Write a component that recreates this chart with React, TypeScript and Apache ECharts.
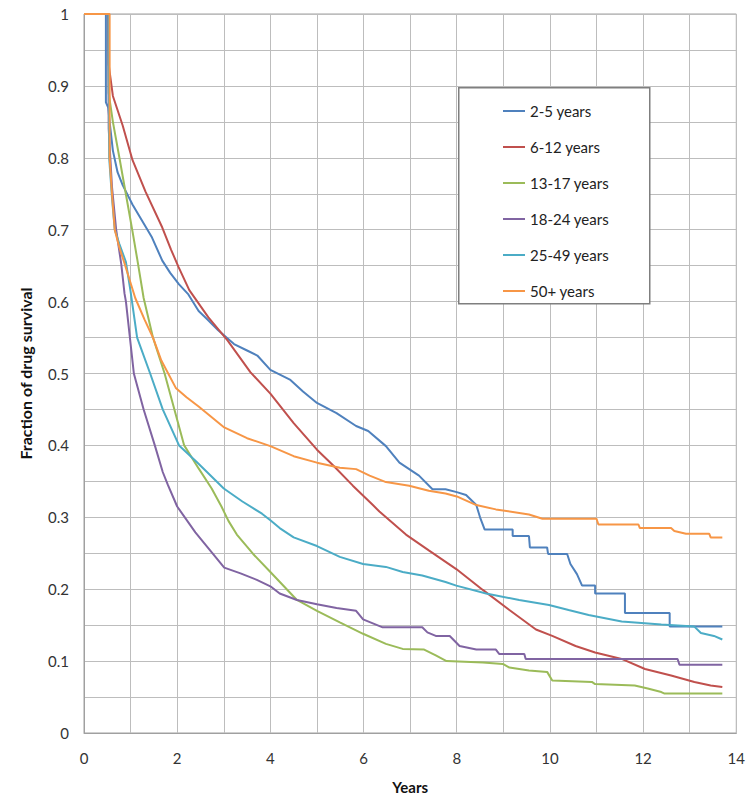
import React, { useEffect, useRef } from "react";
import * as echarts from "echarts";

const seriesNames = ["2-5 years", "6-12 years", "13-17 years", "18-24 years", "25-49 years", "50+ years"];
const seriesColors = ["#4F81BD", "#C0504D", "#9BBB59", "#8064A2", "#4BACC6", "#F79646"];

const age2to5: [number, number][] = [
  [0, 1], [0.47, 1], [0.47, 0.877], [0.52, 0.87], [0.55, 0.85], [0.62, 0.81], [0.72, 0.78], [0.83, 0.762],
  [1.04, 0.735], [1.25, 0.712], [1.46, 0.689], [1.68, 0.657], [1.85, 0.64], [2.04, 0.624], [2.24, 0.61],
  [2.46, 0.587], [2.65, 0.575], [2.88, 0.56], [3.22, 0.541], [3.5, 0.532], [3.72, 0.525], [4.0, 0.505],
  [4.43, 0.491], [4.7, 0.475], [5.0, 0.459], [5.42, 0.445], [5.84, 0.427], [6.1, 0.42], [6.48, 0.399],
  [6.77, 0.376], [7.19, 0.358], [7.48, 0.339], [7.76, 0.339], [8.0, 0.335], [8.2, 0.331], [8.42, 0.317],
  [8.5, 0.3], [8.6, 0.283], [9.2, 0.283], [9.2, 0.274], [9.55, 0.274], [9.57, 0.258], [9.94, 0.258],
  [9.96, 0.249], [10.37, 0.249], [10.44, 0.235], [10.58, 0.221], [10.69, 0.205], [10.97, 0.205],
  [10.97, 0.194], [11.61, 0.194], [11.61, 0.167], [12.57, 0.167], [12.57, 0.148], [13.7, 0.148],
];

const age6to12: [number, number][] = [
  [0, 1], [0.52, 1], [0.53, 0.93], [0.55, 0.92], [0.62, 0.886], [0.83, 0.845], [1.04, 0.797],
  [1.32, 0.753], [1.68, 0.703], [1.87, 0.672], [2.03, 0.648], [2.26, 0.616], [2.67, 0.578], [3.08, 0.546],
  [3.57, 0.502], [4.0, 0.472], [4.5, 0.431], [5.0, 0.394], [5.35, 0.372], [5.77, 0.344], [6.2, 0.317],
  [6.34, 0.308], [6.91, 0.276], [7.4, 0.254], [7.99, 0.228], [8.56, 0.199], [9.13, 0.171], [9.7, 0.144],
  [10.05, 0.135], [10.55, 0.121], [10.97, 0.112], [11.54, 0.103], [12.04, 0.089], [12.6, 0.08],
  [13.1, 0.071], [13.45, 0.066], [13.7, 0.064],
];

const age13to17: [number, number][] = [
  [0, 1], [0.52, 1], [0.53, 0.89], [0.62, 0.85], [0.76, 0.8], [0.9, 0.749], [1.04, 0.698], [1.14, 0.66],
  [1.28, 0.605], [1.48, 0.55], [1.73, 0.5], [1.94, 0.45], [2.15, 0.4], [2.46, 0.368], [2.74, 0.34],
  [2.95, 0.315], [3.1, 0.295], [3.28, 0.276], [3.63, 0.249], [4.0, 0.224], [4.57, 0.185], [5.0, 0.17],
  [5.49, 0.154], [5.99, 0.138], [6.48, 0.124], [6.84, 0.117], [7.3, 0.116], [7.55, 0.108], [7.78, 0.1],
  [8.56, 0.098], [8.99, 0.096], [9.13, 0.091], [9.55, 0.087], [9.94, 0.085], [10.05, 0.073],
  [10.9, 0.071], [10.97, 0.068], [11.82, 0.066], [12.1, 0.062], [12.39, 0.057], [12.45, 0.055],
  [13.7, 0.055],
];

const age18to24: [number, number][] = [
  [0, 1], [0.52, 1], [0.53, 0.84], [0.6, 0.76], [0.69, 0.7], [0.8, 0.652], [0.87, 0.611], [0.9, 0.6],
  [1.07, 0.5], [1.28, 0.45], [1.52, 0.4], [1.69, 0.363], [1.8, 0.345], [2.0, 0.315], [2.39, 0.279],
  [3.01, 0.23], [3.36, 0.222], [3.71, 0.213], [4.0, 0.204], [4.2, 0.194], [4.57, 0.185], [5.0, 0.179],
  [5.42, 0.174], [5.84, 0.17], [5.99, 0.158], [6.41, 0.147], [7.26, 0.147], [7.37, 0.14], [7.55, 0.135],
  [7.85, 0.135], [8.06, 0.121], [8.42, 0.116], [8.84, 0.116], [8.91, 0.11], [9.45, 0.11], [9.48, 0.103],
  [12.74, 0.103], [12.78, 0.095], [13.7, 0.095],
];

const age25to49: [number, number][] = [
  [0, 1], [0.53, 1], [0.54, 0.8], [0.6, 0.745], [0.66, 0.7], [0.76, 0.68], [0.9, 0.655], [1.0, 0.614],
  [1.14, 0.55], [1.42, 0.5], [1.69, 0.45], [2.04, 0.4], [2.42, 0.377], [3.0, 0.34], [3.4, 0.322],
  [3.82, 0.305], [4.0, 0.296], [4.2, 0.285], [4.5, 0.272], [5.0, 0.26], [5.49, 0.245], [5.99, 0.235],
  [6.48, 0.231], [6.84, 0.224], [7.26, 0.219], [7.76, 0.21], [7.99, 0.205], [8.63, 0.194], [9.34, 0.185],
  [9.98, 0.178], [10.4, 0.171], [10.83, 0.164], [11.54, 0.155], [12.39, 0.151], [13.1, 0.148],
  [13.24, 0.139], [13.52, 0.135], [13.7, 0.13],
];

const age50plus: [number, number][] = [
  [0, 1], [0.55, 1], [0.55, 0.8], [0.6, 0.75], [0.66, 0.7], [0.76, 0.675], [0.86, 0.655], [1.1, 0.605],
  [1.3, 0.575], [1.48, 0.55], [1.66, 0.518], [1.97, 0.48], [2.2, 0.467], [2.46, 0.454], [3.01, 0.425],
  [3.5, 0.41], [4.0, 0.399], [4.5, 0.385], [5.0, 0.376], [5.49, 0.369], [5.84, 0.367], [6.13, 0.358],
  [6.48, 0.349], [6.98, 0.344], [7.4, 0.337], [7.76, 0.333], [8.0, 0.329], [8.42, 0.317], [8.84, 0.311],
  [9.55, 0.304], [9.84, 0.298], [11.0, 0.298], [11.04, 0.29], [11.9, 0.29], [11.93, 0.285], [12.6, 0.285],
  [12.67, 0.281], [12.92, 0.277], [13.42, 0.277], [13.45, 0.272], [13.7, 0.272],
];

const seriesData = [age2to5, age6to12, age13to17, age18to24, age25to49, age50plus];

const xTickLabels = ["0", "2", "4", "6", "8", "10", "12", "14"];
const yTickLabels = ["0", "0.1", "0.2", "0.3", "0.4", "0.5", "0.6", "0.7", "0.8", "0.9", "1"];

const FONT = "Lato, 'Open Sans', sans-serif";

export default function App() {
  const ref = useRef<HTMLDivElement>(null);
  useEffect(() => {
    if (!ref.current) return;
    const chart = echarts.init(ref.current, undefined, { renderer: "svg" });
    const option: any = {
      animation: false,
      backgroundColor: "#ffffff",
      textStyle: { fontFamily: FONT },
      grid: {
        left: 84,
        top: 14,
        right: 7,
        bottom: 58,
        show: true,
        borderColor: "#a0a0a0",
        borderWidth: 1,
        backgroundColor: "transparent",
      },
      graphic: [
        {
          type: "rect",
          left: 458,
          top: 87,
          shape: { width: 191, height: 216 },
          style: { fill: "#ffffff", stroke: "#7f7f7f", lineWidth: 1.5 },
          z: 100,
        },
      ],
      legend: {
        left: 498,
        top: 98,
        orient: "vertical",
        icon: "rect",
        itemWidth: 22,
        itemHeight: 2,
        itemGap: 20,
        itemTextGap: 4,
        z: 110,
        textStyle: { fontFamily: FONT, fontSize: 15, color: "#222222", lineHeight: 16 },
        data: seriesNames,
      },
      xAxis: {
        type: "value",
        min: 0,
        max: 14,
        interval: 1,
        name: "Years",
        nameLocation: "middle",
        nameGap: 46,
        nameTextStyle: { fontFamily: FONT, fontWeight: "bold", fontSize: 15, color: "#111" },
        axisLine: { show: true, lineStyle: { color: "#a0a0a0", width: 1 } },
        axisTick: { show: false },
        axisLabel: {
          margin: 17,
          fontFamily: FONT,
          fontSize: 15,
          color: "#333333",
          formatter: (v: number) => {
            const idx = xTickLabels.indexOf(String(Math.round(v)));
            return Math.round(v) % 2 === 0 && idx >= 0 ? xTickLabels[idx] : "";
          },
        },
        splitLine: { show: true, lineStyle: { color: "#bdbdbd", width: 1 } },
      },
      yAxis: {
        type: "value",
        min: 0,
        max: 1,
        interval: 0.05,
        name: "Fraction of drug survival",
        nameLocation: "middle",
        nameGap: 51,
        nameRotate: 90,
        nameTextStyle: { fontFamily: FONT, fontWeight: "bold", fontSize: 16, color: "#111" },
        axisLine: { show: true, lineStyle: { color: "#a0a0a0", width: 1 } },
        axisTick: { show: false },
        axisLabel: {
          margin: 15,
          fontFamily: FONT,
          fontSize: 15,
          color: "#333333",
          formatter: (v: number) => {
            const k = Math.round(v * 20);
            return k % 2 === 0 ? yTickLabels[k / 2] : "";
          },
        },
        splitLine: { show: true, lineStyle: { color: "#bdbdbd", width: 1 } },
      },
      series: seriesNames.map((name, i) => ({
        name,
        type: "line",
        data: seriesData[i],
        showSymbol: false,
        symbol: "none",
        color: seriesColors[i],
        lineStyle: { width: 2, color: seriesColors[i] },
        z: 2 + i,
      })),
    };
    chart.setOption(option);
    return () => chart.dispose();
  }, []);
  return <div ref={ref} style={{ width: 748, height: 799, position: "absolute", left: 0, top: 0 }} />;
}
